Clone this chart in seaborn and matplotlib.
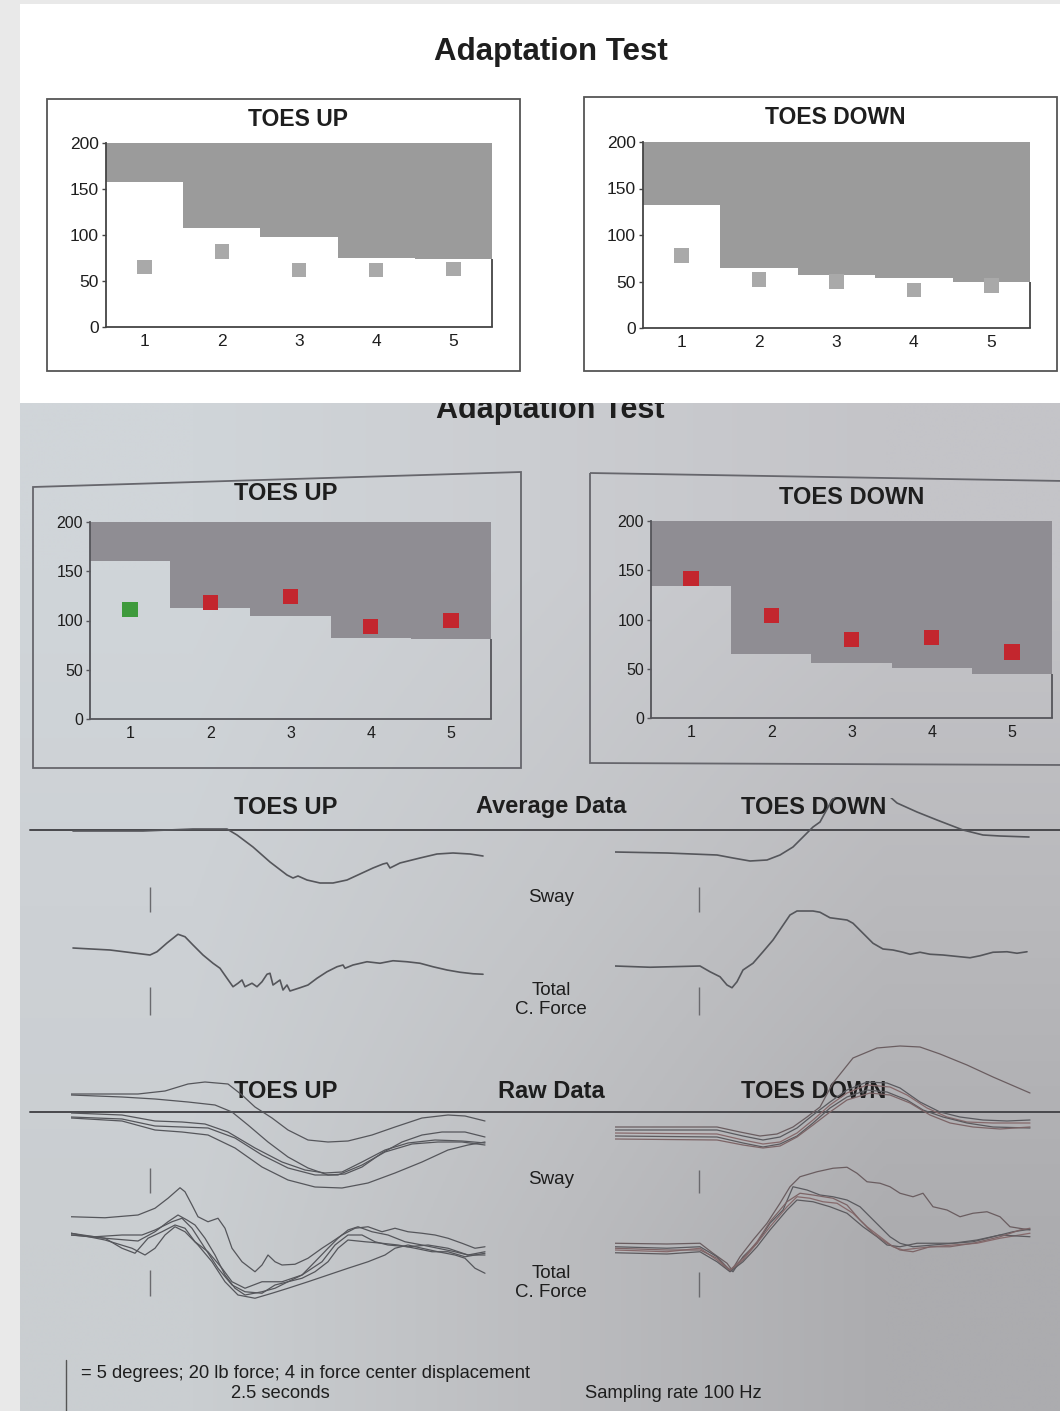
import numpy as np
import matplotlib
matplotlib.use("Agg")
import matplotlib.pyplot as plt
import seaborn as sns
from matplotlib.patches import Rectangle, Polygon

W, H = 1060, 1411

# ---- adaptation test scores ----
trials = [1, 2, 3, 4, 5]
scan_up_limit = [158, 108, 98, 75, 74]
scan_up_score = [65, 82, 62, 62, 63]
scan_down_limit = [132, 65, 57, 54, 49]
scan_down_score = [78, 52, 50, 41, 46]
photo_up_limit = [160, 113, 105, 82, 81]
photo_up_score = [111, 118, 124, 94, 100]
photo_up_colors = ["#3e9a3c", "#c3262e", "#c3262e", "#c3262e", "#c3262e"]
photo_down_limit = [134, 65, 56, 51, 45]
photo_down_score = [142, 104, 80, 82, 67]

# ---- average data traces: time (s), sway (deg), force (lb) ----
avg_up_sway_t = [0.02, 0.72, 1.22, 1.56, 1.66, 1.82, 1.99, 2.16, 2.22, 2.27, 2.36, 2.49, 2.62,
                 2.76, 2.89, 3.02, 3.12, 3.16, 3.19, 3.29, 3.49, 3.66, 3.82, 3.99, 4.12]
avg_up_sway = [0, 0, 0.2, 0.2, -0.4, -1.6, -3.1, -4.4, -4.7, -4.5, -4.9, -5.2, -5.2,
               -4.9, -4.3, -3.7, -3.3, -3.2, -3.7, -3.2, -2.7, -2.3, -2.2, -2.3, -2.5]
avg_up_force_t = [0.02, 0.39, 0.79, 0.86, 0.96, 1.07, 1.14, 1.22, 1.32, 1.42, 1.49, 1.56, 1.62,
                  1.67, 1.71, 1.74, 1.81, 1.86, 1.91, 1.96, 1.99, 2.02, 2.09, 2.12, 2.16, 2.19,
                  2.29, 2.37, 2.46, 2.56, 2.66, 2.72, 2.74, 2.82, 2.96, 3.09, 3.22, 3.36, 3.49,
                  3.62, 3.76, 3.89, 4.02, 4.12]
avg_up_force = [0, -0.8, -2.8, -1.5, 2.0, 5.5, 4.5, 1.2, -2.8, -6.1, -8.1, -12.1, -15.5,
                -14.1, -12.8, -15.5, -14.1, -15.5, -13.5, -10.5, -10.1, -14.8, -12.8, -16.8,
                -14.8, -17.2, -15.9, -14.8, -12.1, -9.5, -7.5, -6.8, -8.1, -6.8, -5.5, -6.1,
                -5.1, -5.5, -6.1, -7.5, -8.8, -9.7, -10.3, -10.5]
avg_down_sway_t = [0, 0.52, 1.02, 1.18, 1.35, 1.52, 1.65, 1.78, 1.88, 1.98, 2.05, 2.17, 2.30,
                   2.45, 2.65, 2.82, 3.02, 3.22, 3.48, 3.68, 3.85, 4.14]
avg_down_sway = [0, -0.1, -0.3, -0.6, -0.9, -0.8, -0.3, 0.5, 1.5, 2.5, 3.0, 5.2, 6.4,
                 6.9, 6.4, 4.9, 4.0, 3.2, 2.2, 1.7, 1.6, 1.5]
avg_down_force_t = [0, 0.35, 0.85, 0.95, 1.05, 1.12, 1.17, 1.22, 1.28, 1.38, 1.48, 1.58, 1.67,
                    1.75, 1.82, 1.98, 2.05, 2.15, 2.32, 2.38, 2.48, 2.58, 2.68, 2.78, 2.88,
                    2.95, 3.05, 3.15, 3.28, 3.45, 3.55, 3.65, 3.78, 3.92, 4.02, 4.12]
avg_down_force = [0, -0.5, 0, -2.3, -4.3, -7.6, -8.7, -6.3, -1.6, 1.1, 5.7, 10.4, 15.7,
                  20.4, 22.0, 22.0, 21.5, 19.3, 18.4, 17.1, 13.1, 9.1, 6.8, 6.4, 5.5,
                  4.7, 5.5, 4.7, 4.4, 3.7, 3.3, 4.1, 5.5, 5.7, 5.1, 5.7]

# ---- raw data traces (5 trials each) ----
raw_up_sway_t = [
    [0, 0.67, 0.94, 1.17, 1.34, 1.57, 1.71, 1.84, 2.01, 2.17, 2.37, 2.57, 2.77, 3.01, 3.24, 3.51, 3.77, 3.94, 4.14],
    [0, 0.51, 0.84, 1.17, 1.44, 1.61, 1.77, 1.97, 2.17, 2.37, 2.57, 2.74, 2.91, 3.11, 3.31, 3.51, 3.71, 3.94, 4.14],
    [0, 0.51, 0.84, 1.11, 1.34, 1.57, 1.84, 2.11, 2.34, 2.54, 2.71, 2.91, 3.14, 3.37, 3.64, 3.91, 4.14],
    [0, 0.51, 0.84, 1.11, 1.37, 1.64, 1.91, 2.17, 2.44, 2.67, 2.91, 3.14, 3.41, 3.67, 3.91, 4.14],
    [0, 0.51, 0.84, 1.11, 1.37, 1.64, 1.91, 2.17, 2.44, 2.71, 2.97, 3.24, 3.51, 3.77, 3.97, 4.14],
]
raw_up_sway = [
    [0.1, 0.1, 0.4, 1.1, 1.3, 1.1, 0, -1.2, -2.3, -3.5, -4.5, -4.7, -4.6, -4.0, -3.2, -2.3, -2.0, -2.1, -2.6],
    [0, -0.2, -0.4, -0.7, -1.0, -1.7, -3.0, -4.7, -6.2, -7.3, -8.0, -7.9, -7.2, -5.8, -4.7, -4.0, -3.7, -3.7, -4.2],
    [-1.8, -2.0, -2.6, -2.7, -2.9, -3.7, -5.3, -6.7, -7.5, -7.8, -7.7, -6.7, -5.5, -4.8, -4.5, -4.6, -4.8],
    [-2.2, -2.4, -3.1, -3.2, -3.3, -4.3, -6.0, -7.3, -8.0, -8.0, -7.0, -5.7, -4.9, -4.7, -4.7, -5.0],
    [-2.3, -2.6, -3.5, -3.7, -4.0, -5.3, -7.2, -8.5, -9.2, -9.3, -8.8, -7.8, -6.7, -5.5, -5.0, -4.7],
]
raw_up_force_t = [
    [0, 0.34, 0.67, 0.84, 0.97, 1.09, 1.14, 1.21, 1.27, 1.37, 1.47, 1.54, 1.61, 1.71, 1.84, 1.91, 1.97, 2.04,
     2.11, 2.24, 2.37, 2.51, 2.61, 2.71, 2.84, 2.97, 3.11, 3.24, 3.37, 3.51, 3.64, 3.77, 3.91, 4.04, 4.14],
    [0, 0.34, 0.67, 0.84, 0.97, 1.07, 1.16, 1.24, 1.34, 1.44, 1.54, 1.64, 1.74, 1.91, 2.04, 2.17, 2.31, 2.44,
     2.57, 2.67, 2.77, 2.87, 3.01, 3.17, 3.34, 3.51, 3.67, 3.84, 3.97, 4.14],
    [0, 0.24, 0.51, 0.71, 0.84, 1.01, 1.11, 1.21, 1.34, 1.47, 1.61, 1.74, 1.91, 2.04, 2.17, 2.31, 2.44, 2.57,
     2.67, 2.77, 2.94, 3.11, 3.27, 3.44, 3.61, 3.77, 3.94, 4.14],
    [0, 0.34, 0.61, 0.74, 0.84, 0.94, 1.04, 1.14, 1.27, 1.41, 1.54, 1.67, 1.84, 2.01, 2.17, 2.37, 2.57, 2.77,
     2.97, 3.14, 3.24, 3.37, 3.51, 3.67, 3.84, 3.94, 4.04, 4.14],
    [0, 0.34, 0.51, 0.64, 0.77, 0.91, 1.04, 1.14, 1.24, 1.37, 1.51, 1.61, 1.74, 1.91, 2.11, 2.31, 2.51, 2.64,
     2.77, 2.91, 3.04, 3.17, 3.37, 3.57, 3.77, 3.97, 4.14],
]
raw_up_force = [
    [7.3, 6.9, 8.0, 10.7, 14.7, 18.9, 17.3, 12.0, 7.3, 5.3, 6.7, 2.7, -5.3, -10.7, -14.7, -12.0, -8.0, -10.7,
     -12.0, -11.7, -9.3, -5.3, -2.7, 0, 2.7, 3.3, 1.3, 2.7, 1.3, 0.7, 0, -1.3, -3.3, -5.3, -4.7],
    [0, -1.3, -2.4, 1.3, 5.3, 8.0, 6.0, 4.0, -1.3, -8.0, -16.0, -21.3, -24.0, -22.7, -21.3, -18.7, -16.0, -10.7,
     -5.3, -1.3, 2.0, 3.3, 1.3, 0, -2.7, -4.0, -5.3, -6.7, -8.0, -8.0],
    [0, -0.7, 0, 0, 2.0, 5.3, 6.7, 2.7, -5.3, -13.3, -20.0, -22.7, -23.3, -20.0, -18.7, -17.3, -14.7, -10.7,
     -5.3, -2.0, -2.7, -3.3, -4.0, -5.3, -6.7, -6.7, -8.7, -7.3],
    [0.7, -2.0, -5.3, -8.0, -5.3, 0, 3.3, 1.3, -4.0, -10.7, -18.7, -24.0, -25.3, -23.3, -21.3, -18.7, -16.0,
     -13.3, -10.7, -8.0, -5.3, -4.0, -5.3, -6.7, -8.0, -9.3, -13.3, -15.3],
    [0.7, -1.3, -5.3, -7.3, -1.3, 1.3, 4.0, 2.7, -2.7, -6.7, -13.3, -18.7, -21.3, -18.7, -18.7, -16.0, -10.7,
     -4.0, 0, 0, -2.7, -4.0, -4.7, -4.0, -5.3, -8.0, -6.7],
]
raw_down_sway_t = [
    [0, 1.02, 1.25, 1.45, 1.62, 1.78, 1.92, 2.05, 2.18, 2.38, 2.62, 2.85, 3.05, 3.25, 3.52, 3.78, 4.15],
    [0, 1.02, 1.28, 1.48, 1.65, 1.82, 1.98, 2.15, 2.32, 2.52, 2.72, 2.85, 3.05, 3.25, 3.45, 3.68, 3.92, 4.15],
    [0, 1.02, 1.28, 1.48, 1.65, 1.82, 1.98, 2.15, 2.32, 2.52, 2.75, 2.92, 3.12, 3.32, 3.52, 3.78, 4.15],
    [0, 1.02, 1.28, 1.48, 1.65, 1.82, 1.98, 2.15, 2.32, 2.52, 2.72, 2.92, 3.08, 3.28, 3.52, 3.78, 4.15],
    [0, 1.02, 1.28, 1.48, 1.65, 1.82, 1.98, 2.15, 2.32, 2.55, 2.75, 2.95, 3.15, 3.35, 3.58, 3.85, 4.15],
]
raw_down_sway = [
    [0.3, 0.3, -0.2, -0.6, -0.4, 0.3, 1.3, 2.3, 4.7, 7.2, 8.2, 8.4, 8.3, 7.6, 6.5, 5.3, 3.7],
    [0, 0, -0.6, -1.0, -0.7, 0.2, 1.5, 2.8, 4.0, 4.8, 4.7, 4.2, 2.8, 1.8, 1.3, 1.0, 0.9, 1.0],
    [-0.3, -0.4, -1.0, -1.4, -1.2, -0.3, 1.0, 2.5, 3.7, 4.5, 4.3, 3.5, 2.2, 1.3, 0.8, 0.7, 0.7],
    [-0.6, -0.7, -1.3, -1.7, -1.4, -0.6, 0.7, 2.2, 3.3, 4.0, 3.8, 3.0, 2.0, 1.3, 0.7, 0.3, 0.2],
    [-0.9, -1.0, -1.5, -1.8, -1.6, -0.7, 0.5, 1.8, 3.0, 3.7, 3.5, 2.7, 1.5, 0.7, 0.3, 0.1, 0.3],
]
raw_down_force_t = [
    [0, 0.52, 0.85, 0.98, 1.12, 1.17, 1.25, 1.38, 1.52, 1.65, 1.75, 1.85, 2.02, 2.18, 2.32, 2.42, 2.52, 2.65,
     2.75, 2.85, 2.98, 3.08, 3.18, 3.32, 3.45, 3.58, 3.72, 3.85, 3.95, 4.15],
    [0, 0.52, 0.85, 1.02, 1.13, 1.18, 1.28, 1.42, 1.55, 1.68, 1.78, 1.92, 2.05, 2.18, 2.32, 2.45, 2.55, 2.65,
     2.75, 2.85, 2.98, 3.18, 3.38, 3.58, 3.78, 3.98, 4.15],
    [0, 0.52, 0.85, 1.02, 1.15, 1.28, 1.42, 1.55, 1.72, 1.82, 1.95, 2.08, 2.22, 2.38, 2.52, 2.65, 2.78, 2.88,
     3.02, 3.18, 3.38, 3.62, 3.85, 4.15],
    [0, 0.52, 0.85, 1.02, 1.15, 1.28, 1.42, 1.55, 1.72, 1.82, 1.98, 2.15, 2.32, 2.48, 2.62, 2.72, 2.85, 3.02,
     3.18, 3.38, 3.62, 3.85, 4.15],
    [0, 0.52, 0.85, 1.02, 1.15, 1.28, 1.42, 1.55, 1.72, 1.85, 1.98, 2.18, 2.32, 2.45, 2.58, 2.72, 2.85, 2.98,
     3.15, 3.35, 3.58, 3.85, 4.05, 4.15],
]
raw_down_force = [
    [2.7, 2.4, 2.7, -1.3, -5.3, -8.0, -2.7, 4.0, 10.7, 18.7, 25.3, 29.3, 31.3, 32.7, 33.1, 30.7, 27.3, 26.7,
     25.3, 22.7, 21.3, 22.7, 17.3, 16.0, 13.3, 14.7, 15.3, 13.3, 9.3, 8.0],
    [1.3, 0.7, 1.3, -2.7, -7.3, -8.7, -2.7, 2.7, 10.7, 16.0, 25.3, 24.0, 22.0, 21.3, 20.0, 17.3, 13.3, 9.3,
     5.3, 2.7, 1.3, 2.0, 2.7, 3.3, 5.3, 7.3, 8.3],
    [0, -0.7, 0.7, -4.0, -8.3, -4.0, 2.7, 9.3, 17.3, 21.3, 20.7, 19.3, 18.7, 14.7, 9.3, 5.3, 1.3, 0,
     0.7, 1.3, 2.0, 2.7, 4.7, 6.7],
    [-1.1, -1.6, -0.7, -4.7, -8.7, -4.7, 1.3, 8.0, 16.0, 20.0, 19.3, 17.3, 14.7, 9.3, 5.3, 2.0, 1.3, 2.7,
     2.7, 2.7, 4.0, 6.0, 5.3],
    [0.7, 0, 0, -3.3, -8.0, -3.3, 3.3, 11.3, 19.3, 22.7, 22.0, 20.7, 18.0, 12.0, 6.7, 2.7, 0, -0.7,
     1.3, 1.3, 2.7, 5.3, 8.0, 8.7],
]
onset_up = 0.79     # s, stimulus onset marks
onset_down = 0.84

# ---- style ----
sns.set_style("white")
plt.rcParams["font.family"] = ["Liberation Sans", "DejaVu Sans"]

SCAN_GRAY = "#9b9b9b"
SCAN_MARK = "#a9a9a9"
PHOTO_GRAY = "#8f8d93"
TRACE = "#55565b"
TXT = "#1e1e1e"

fig = plt.figure(figsize=(W / 100, H / 100), dpi=100)
fig.patch.set_facecolor("#e9e9e9")


def px_axes(x0, y0, x1, y1):
    return fig.add_axes([x0 / W, 1 - y1 / H, (x1 - x0) / W, (y1 - y0) / H])


# background / page layer
ax_bg = px_axes(0, 0, W, H)
grad = np.array([[[208, 213, 217], [203, 205, 209], [196, 196, 200]],
                 [[205, 209, 213], [196, 198, 201], [185, 185, 188]],
                 [[202, 206, 209], [188, 189, 192], [172, 172, 175]]]) / 255
ax_bg.imshow(grad, extent=(20, W, H, 403), interpolation="bilinear", aspect="auto", zorder=0)
ax_bg.text(550, 418, "Adaptation Test", ha="center", va="baseline", fontsize=22,
           fontweight="bold", color=TXT, zorder=1)
ax_bg.add_patch(Rectangle((20, 4), W - 20, 399, fc="white", ec="none", zorder=2))
ax_bg.set_xlim(0, W)
ax_bg.set_ylim(H, 0)
ax_bg.axis("off")

ax_bg.text(551, 52, "Adaptation Test", ha="center", va="center", fontsize=22.5,
           fontweight="bold", color=TXT, zorder=5)
for x, y, w, h in [(47, 99, 473, 272), (584, 97, 473, 274)]:
    ax_bg.add_patch(Rectangle((x, y), w, h, fill=False, ec="#555555", lw=1.3, zorder=4))
ax_bg.text(298, 119, "TOES UP", ha="center", va="center", fontsize=16.5, fontweight="bold", color=TXT, zorder=5)
ax_bg.text(835, 118, "TOES DOWN", ha="center", va="center", fontsize=16.5, fontweight="bold", color=TXT, zorder=5)

# photo panel frames (slightly skewed in the photo)
ax_bg.add_patch(Polygon([(33, 487), (521, 472), (521, 768), (33, 768)], closed=True,
                        fill=False, ec="#66666c", lw=1.3, zorder=4))
ax_bg.add_patch(Polygon([(590, 473), (1064, 481), (1064, 765), (590, 763)], closed=True,
                        fill=False, ec="#66666c", lw=1.3, zorder=4))
ax_bg.text(286, 494, "TOES UP", ha="center", va="center", fontsize=17, fontweight="bold", color=TXT, zorder=5)
ax_bg.text(852, 498, "TOES DOWN", ha="center", va="center", fontsize=17, fontweight="bold", color=TXT, zorder=5)

# section headings + separator lines
for ytxt, yline, mid in [(807, 830, "Average Data"), (1091, 1112, "Raw Data")]:
    ax_bg.plot([30, W], [yline, yline], color="#48484c", lw=1.4, zorder=3)
    ax_bg.text(286, ytxt, "TOES UP", ha="center", va="center", fontsize=17, fontweight="bold", color=TXT, zorder=5)
    ax_bg.text(551, ytxt, mid, ha="center", va="center", fontsize=17, fontweight="bold", color=TXT, zorder=5)
    ax_bg.text(814, ytxt + 1, "TOES DOWN", ha="center", va="center", fontsize=17, fontweight="bold", color=TXT, zorder=5)
for ys, yf in [(897, 1000), (1180, 1283)]:
    ax_bg.text(551, ys, "Sway", ha="center", va="center", fontsize=13.5, color=TXT, zorder=5)
    ax_bg.text(551, yf, "Total\nC. Force", ha="center", va="center", fontsize=13.5, color=TXT,
               linespacing=1.15, zorder=5)

# footer
ax_bg.plot([66, 66], [1360, H], color="#555555", lw=1.0, zorder=3)
ax_bg.text(81, 1373, "= 5 degrees; 20 lb force; 4 in force center displacement", ha="left", va="center",
           fontsize=13.2, color=TXT, zorder=5)
ax_bg.text(280, 1394, "2.5 seconds", ha="center", va="center", fontsize=13.2, color=TXT, zorder=5)
ax_bg.text(673, 1394, "Sampling rate 100 Hz", ha="center", va="center", fontsize=13.2, color=TXT, zorder=5)


def score_panel(ax, limit, score, shade, face, colors, size, fsize, spine_col):
    ax.set_facecolor(face)
    ax.bar(trials, [200 - v for v in limit], bottom=limit, width=1.0, color=shade, linewidth=0, zorder=1)
    ax.vlines(5.5, 0, limit[-1], color=spine_col, lw=1.3, zorder=2, clip_on=False)
    sns.scatterplot(x=trials, y=score, hue=trials, palette=dict(zip(trials, colors)), marker="s",
                    s=size, linewidth=0, legend=False, ax=ax, zorder=3)
    ax.set_xlim(0.5, 5.5)
    ax.set_ylim(0, 200)
    ax.set_xticks(trials)
    ax.set_yticks([0, 50, 100, 150, 200])
    ax.set_xlabel("")
    ax.set_ylabel("")
    for side in ["top", "right"]:
        ax.spines[side].set_visible(False)
    for side in ["left", "bottom"]:
        ax.spines[side].set_color(spine_col)
        ax.spines[side].set_linewidth(1.3)
    ax.tick_params(axis="y", length=3, width=1, color=spine_col, labelsize=fsize, labelcolor=TXT, pad=2, left=True)
    ax.tick_params(axis="x", length=0, labelsize=fsize, labelcolor=TXT, pad=5, bottom=True)


score_panel(px_axes(106, 143, 492, 327), scan_up_limit, scan_up_score, SCAN_GRAY, "white",
            [SCAN_MARK] * 5, 110, 12.5, "#444444")
score_panel(px_axes(643, 142, 1030, 328), scan_down_limit, scan_down_score, SCAN_GRAY, "white",
            [SCAN_MARK] * 5, 110, 12.5, "#444444")
score_panel(px_axes(90, 522, 491, 719), photo_up_limit, photo_up_score, PHOTO_GRAY, "none",
            photo_up_colors, 120, 11.5, "#55555a")
score_panel(px_axes(651, 521, 1052, 718), photo_down_limit, photo_down_score, PHOTO_GRAY, "none",
            ["#c3262e"] * 5, 120, 11.5, "#55555a")

# trace panels: x in seconds (100 px/s), y in page px with per-row baselines
SWAY_PX = 10.0   # px per degree
FORCE_PX = 2.5   # px per lb


def trace_axes(x0, y0, y1):
    ax = px_axes(x0, y0, x0 + 420, y1)
    ax.set_xlim(0, 4.2)
    ax.set_ylim(-y1, -y0)
    ax.axis("off")
    ax.patch.set_alpha(0)
    return ax


def draw(ax, t, v, base, scale, color=TRACE, lw=1.0):
    y = [-base + val * scale for val in v]
    sns.lineplot(x=t, y=y, ax=ax, color=color, lw=lw, sort=False, estimator=None)


# average window is clipped at its top edge (just under the headings)
avg_l = trace_axes(71, 798, 1035)
avg_r = trace_axes(615, 798, 1035)
raw_l = trace_axes(71, 1035, 1340)
raw_r = trace_axes(615, 1035, 1340)

# onset marks
for ax, t0, rows in [(avg_l, onset_up, [(887, 912), (987, 1015)]),
                     (avg_r, onset_down, [(887, 912), (987, 1015)]),
                     (raw_l, onset_up, [(1168, 1193), (1270, 1296)]),
                     (raw_r, onset_down, [(1170, 1193), (1272, 1297)])]:
    for y0, y1 in rows:
        ax.vlines(t0, -y1, -y0, color="#6a6a6e", lw=1.0)

draw(avg_l, avg_up_sway_t, avg_up_sway, 831, SWAY_PX, lw=1.2)
draw(avg_l, avg_up_force_t, avg_up_force, 948, FORCE_PX, lw=1.2)
draw(avg_r, avg_down_sway_t, avg_down_sway, 852, SWAY_PX, lw=1.2)
draw(avg_r, avg_down_force_t, avg_down_force, 966, FORCE_PX, lw=1.2)

down_cols = ["#6a5d60", "#5a5a5f", "#86696b", "#5c5a5e", "#7c6466"]
for i in range(5):
    draw(raw_l, raw_up_sway_t[i], raw_up_sway[i], 1095, SWAY_PX, lw=0.9)
    draw(raw_l, raw_up_force_t[i], raw_up_force[i], 1235, FORCE_PX, lw=0.9)
    draw(raw_r, raw_down_sway_t[i], raw_down_sway[i], 1130, SWAY_PX, color=down_cols[i], lw=0.9)
    draw(raw_r, raw_down_force_t[i], raw_down_force[i], 1250, FORCE_PX, color=down_cols[i], lw=0.9)

fig.savefig("out.png", dpi=100, facecolor=fig.get_facecolor())
